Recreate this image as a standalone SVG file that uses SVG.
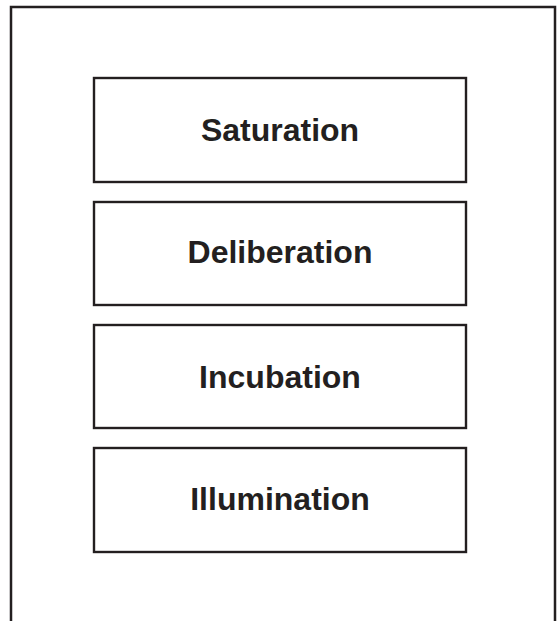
<svg xmlns="http://www.w3.org/2000/svg" width="559" height="621" viewBox="0 0 559 621">
  <style>
    .frame { fill: none; stroke: #231f20; stroke-width: 2.5; }
    .stage rect { fill: #ffffff; stroke: #231f20; stroke-width: 2.4; }
    .stage text { font-family: "Liberation Sans", Arial, sans-serif; font-weight: bold; font-size: 32px; fill: #231f20; text-anchor: middle; }
  </style>
  <rect width="559" height="621" fill="#ffffff"/>
  <!-- outer panel, open at the bottom edge -->
  <path class="frame" d="M11,625 V7 H555 V625"/>
  <g id="connectors"></g>
  <g id="saturation" class="stage">
    <rect x="94" y="78" width="372" height="104"/>
    <text x="280" y="141">Saturation</text>
  </g>
  <g id="deliberation" class="stage">
    <rect x="94" y="202" width="372" height="103"/>
    <text x="280" y="263">Deliberation</text>
  </g>
  <g id="incubation" class="stage">
    <rect x="94" y="325" width="372" height="103"/>
    <text x="280" y="388">Incubation</text>
  </g>
  <g id="illumination" class="stage">
    <rect x="94" y="448" width="372" height="104"/>
    <text x="280" y="510">Illumination</text>
  </g>
</svg>
